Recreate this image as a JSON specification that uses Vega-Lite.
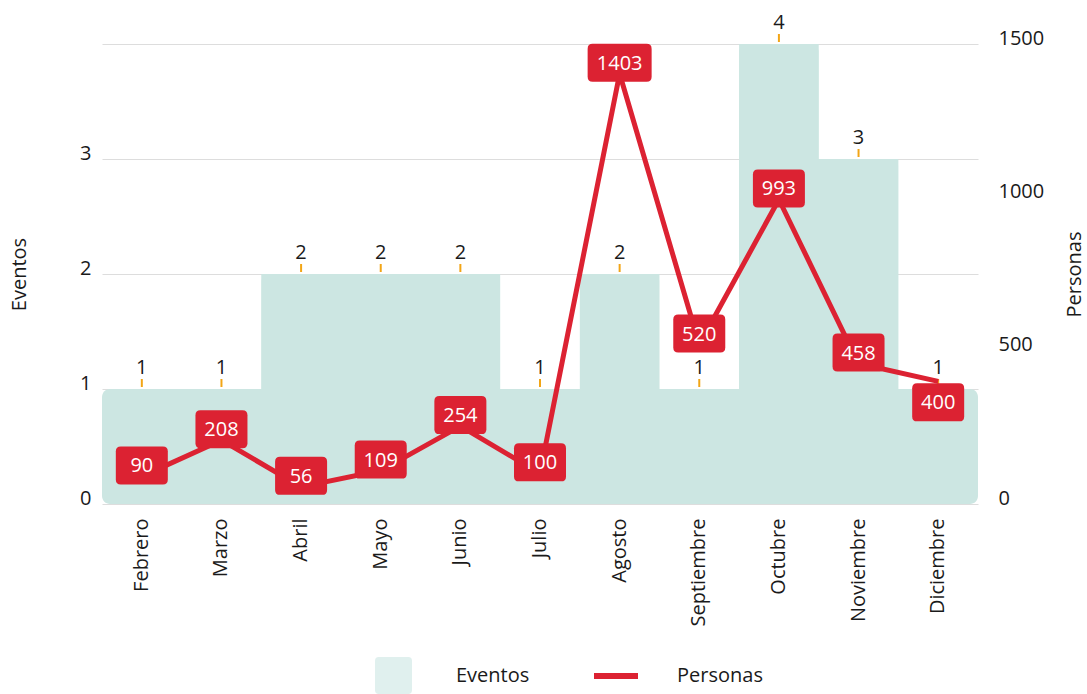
{
  "$schema": "https://vega.github.io/schema/vega-lite/v6.json",
  "autosize": {"type": "none"},
  "padding": {"left": 102, "top": 44, "right": 109, "bottom": 190},
  "width": 876,
  "height": 460,
  "background": "white",
  "config": {
    "view": {"stroke": null},
    "font": "Open Sans",
    "axis": {"domain": false, "ticks": false, "labelFont": "Open Sans", "labelFontSize": 20, "labelColor": "#1a1a1a", "titleFont": "Open Sans", "titleFontSize": 20, "titleFontWeight": "normal", "titleColor": "#1a1a1a"},
    "legend": {"labelFont": "Open Sans", "labelFontSize": 20, "labelColor": "#1a1a1a", "padding": 0}
  },
  "data": {"values": [
    {"mes": "Febrero", "eventos": 1, "personas": 90},
    {"mes": "Marzo", "eventos": 1, "personas": 208},
    {"mes": "Abril", "eventos": 2, "personas": 56},
    {"mes": "Mayo", "eventos": 2, "personas": 109},
    {"mes": "Junio", "eventos": 2, "personas": 254},
    {"mes": "Julio", "eventos": 1, "personas": 100},
    {"mes": "Agosto", "eventos": 2, "personas": 1403},
    {"mes": "Septiembre", "eventos": 1, "personas": 520},
    {"mes": "Octubre", "eventos": 4, "personas": 993},
    {"mes": "Noviembre", "eventos": 3, "personas": 458},
    {"mes": "Diciembre", "eventos": 1, "personas": 400}
  ]},
  "encoding": {
    "x": {"field": "mes", "type": "nominal", "sort": null, "title": null,
      "scale": {"paddingInner": 0, "paddingOuter": 0},
      "axis": {"labelAngle": 270, "labelPadding": 14, "grid": false}}
  },
  "layer": [
    {
      "layer": [
        {
          "mark": {"type": "bar", "cornerRadius": 8, "width": {"band": 1}},
          "encoding": {
            "y": {"field": "eventos", "type": "quantitative", "title": "Eventos",
              "scale": {"domain": [0, 4], "nice": false},
              "axis": {"orient": "left", "values": [0, 1, 2, 3, 4], "format": "d", "labelExpr": "datum.value == 4 ? '' : datum.label", "grid": true, "gridColor": "#dddddd", "labelPadding": 11, "labelBaseline": "alphabetic", "titlePadding": 50}},
            "fill": {"datum": "Eventos", "type": "nominal",
              "scale": {"domain": ["Eventos"], "range": ["#cce6e2"]},
              "legend": {"title": null, "orient": "none", "legendX": 273, "legendY": 613, "symbolType": "M-0.8,-1L0.8,-1Q1,-1,1,-0.8L1,0.8Q1,1,0.8,1L-0.8,1Q-1,1,-1,0.8L-1,-0.8Q-1,-1,-0.8,-1Z", "symbolSize": 1369, "symbolOpacity": 0.6, "labelOffset": 44, "symbolStrokeWidth": 0}}
          }
        },
        {
          "mark": {"type": "area", "interpolate": "step", "color": "#cce6e2"},
          "encoding": {"y": {"field": "eventos", "type": "quantitative"}}
        },
        {
          "mark": {"type": "point", "shape": "M0,-1L0,1", "filled": false, "stroke": "#f2a516", "strokeWidth": 2, "size": 64, "yOffset": -6, "opacity": 1},
          "encoding": {"y": {"field": "eventos", "type": "quantitative"}}
        },
        {
          "mark": {"type": "text", "font": "Open Sans", "fontSize": 20, "color": "#1a1a1a", "yOffset": -21, "baseline": "middle"},
          "encoding": {"y": {"field": "eventos", "type": "quantitative"}, "text": {"field": "eventos", "type": "quantitative"}}
        }
      ]
    },
    {
      "layer": [
        {
          "mark": {"type": "line", "strokeWidth": 5, "strokeJoin": "round"},
          "encoding": {
            "y": {"field": "personas", "type": "quantitative", "title": "Personas",
              "scale": {"domain": [0, 1500], "nice": false},
              "axis": {"orient": "right", "values": [0, 500, 1000, 1500], "format": "d", "grid": false, "labelPadding": 20, "labelBaseline": "alphabetic", "titleAngle": 270, "titlePadding": 41}},
            "stroke": {"datum": "Personas", "type": "nominal",
              "scale": {"domain": ["Personas"], "range": ["#dc2232"]},
              "legend": {"title": null, "orient": "none", "legendX": 489, "legendY": 607, "symbolType": "stroke", "symbolSize": 1936, "symbolStrokeWidth": 6, "labelOffset": 36}}
          }
        },
        {
          "mark": {"type": "point", "filled": true, "color": "#dc2232", "opacity": 1, "yOffset": {"expr": "datum.mes == 'Diciembre' ? 21 : -11"}},
          "encoding": {
            "y": {"field": "personas", "type": "quantitative"},
            "shape": {"condition": {"test": "datum.personas >= 1000", "value": "M-0.844,-0.594L0.844,-0.594Q1,-0.594,1,-0.438L1,0.438Q1,0.594,0.844,0.594L-0.844,0.594Q-1,0.594,-1,0.438L-1,-0.438Q-1,-0.594,-0.844,-0.594Z"}, "value": "M-0.81,-0.731L0.81,-0.731Q1,-0.731,1,-0.541L1,0.541Q1,0.731,0.81,0.731L-0.81,0.731Q-1,0.731,-1,0.541L-1,-0.541Q-1,-0.731,-0.81,-0.731Z"},
            "size": {"condition": {"test": "datum.personas >= 1000", "value": 4096}, "value": 2704}
          }
        },
        {
          "mark": {"type": "text", "font": "Open Sans", "fontSize": 20, "color": "white", "baseline": "middle", "yOffset": {"expr": "datum.mes == 'Diciembre' ? 22 : -10"}},
          "encoding": {
            "y": {"field": "personas", "type": "quantitative"},
            "text": {"field": "personas", "type": "quantitative"}
          }
        }
      ]
    }
  ],
  "resolve": {"scale": {"y": "independent"}}
}
